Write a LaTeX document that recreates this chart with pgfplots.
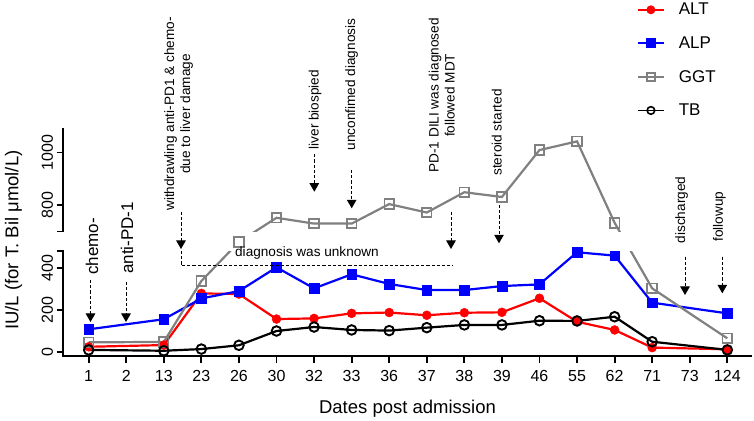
\documentclass[border=0pt]{standalone}
\usepackage{pgfplots}
\usepackage{pgfplotstable}
\pgfplotsset{compat=1.18}
\usepackage{fontspec}
\setmainfont{Liberation Sans}
\usetikzlibrary{arrows.meta}

\definecolor{altred}{RGB}{255,0,0}
\definecolor{alpblue}{RGB}{0,0,255}
\definecolor{ggtgray}{RGB}{128,128,128}

\pgfplotstableread{
idx ALT ALP GGT TB
0 25 108 46 10
2 33 156 48 6
3 279 255 338 14
4 276 290 584 32
5 157 403 752 100
6 160 303 730 119
7 184 370 730 105
8 188 324 804 102
9 175 295 772 116
10 187 295 849 129
11 189 314 831 129
12 256 322 1009 149
13 144 475 1042 148
14 105 459 733 168
15 21 235 303 49
17 13 184 65 10
}\datatab

\tikzset{
  ann/.style={font=\fontsize{13.6}{16}\selectfont, rotate=90, inner sep=0pt, align=center},
  darr/.style={line width=0.9pt, dash pattern=on 3.2pt off 2pt, -{Triangle[width=9.5pt,length=8.5pt]}},
  dln/.style={line width=0.9pt, dash pattern=on 3.2pt off 2pt},
}

\begin{document}
\begin{tikzpicture}[x=1pt,y=1pt]
\path[use as bounding box] (0,0) rectangle (754,420);
\begin{axis}[
  at={(63pt,64pt)}, anchor=south west,
  scale only axis, width=689pt, height=228.3pt,
  xmin=-0.683, xmax=17.657,
  ymin=-19, ymax=1093.9,
  y coord trafo/.code={\pgfmathparse{#1<480 ? #1 : (#1>700 ? 573.8+(#1-700)*1.2548 : 480+(#1-480)*0.42636)}},
  y coord inv trafo/.code={\pgfmathparse{#1<480 ? #1 : (#1>573.8 ? 700+(#1-573.8)/1.2548 : 480+(#1-480)/0.42636)}},
  axis x line*=bottom, axis y line*=left,
  axis line style={line width=1.8pt},
  y axis line style={draw=none},
  tick align=outside, major tick length=6.5pt,
  tick style={line width=1.8pt, black},
  minor tick num=0,
  xtick={0,...,17},
  xticklabels={1,2,13,23,26,30,32,33,36,37,38,39,46,55,62,71,73,124},
  ytick={0,200,400,800,1000},
  yticklabels={0,200,400,800,1000},
  /pgf/number format/assume math mode=true,
  xticklabel style={font=\fontsize{16}{19}\selectfont, yshift=-4pt},
  yticklabel style={font=\fontsize{16}{19}\selectfont, rotate=90, anchor=south},
  xlabel={Dates post admission},
  xlabel style={at={(axis description cs:0.5,-0.251)}, anchor=base, font=\fontsize{18.5}{22}\selectfont},
  ylabel={IU/L (for T. Bil μmol/L)},
  ylabel style={at={(axis description cs:-0.0646,0.508)}, anchor=base, font=\fontsize{18.5}{22}\selectfont},
  clip=false,
  legend image code/.code={\draw[mark repeat=2,mark phase=2,#1] plot coordinates {(0pt,0pt)(13pt,0pt)(26pt,0pt)};},
  legend style={at={(axis description cs:0.8331,1.5453)}, anchor=north west, draw=none, fill=none,
    inner sep=0pt, outer sep=0pt, row sep=20.3pt, /tikz/column sep=14pt,
    font=\fontsize{17}{20}\selectfont, nodes={inner sep=0pt, anchor=west}},
  legend cell align=left,
]
% lines
\addplot[altred, line width=2.2pt, forget plot] table[x=idx, y=ALT] {\datatab};
\addplot[alpblue, line width=2.2pt, forget plot] table[x=idx, y=ALP] {\datatab};
\addplot[ggtgray, line width=2.2pt, forget plot] table[x=idx, y=GGT] {\datatab};
\addplot[black, line width=2.2pt, forget plot] table[x=idx, y=TB] {\datatab};
% axis break band
\fill[white] (rel axis cs:0,0.459) rectangle (rel axis cs:1,0.5453);
% marks
\addplot[only marks, mark=*, mark size=4.5pt, altred, forget plot] table[x=idx, y=ALT] {\datatab};
\addplot[only marks, mark=square*, mark size=4.9pt, alpblue, forget plot] table[x=idx, y=ALP] {\datatab};
\addplot[only marks, mark=square, mark size=4.8pt, ggtgray, line width=1.8pt, forget plot] table[x=idx, y=GGT] {\datatab};
\addplot[only marks, mark=o, mark size=4.8pt, black, line width=1.9pt, forget plot] table[x=idx, y=TB] {\datatab};
% legend
\addlegendimage{altred, line width=1.8pt, mark=*, mark size=3.5pt}
\addlegendentry{ALT}
\addlegendimage{alpblue, line width=1.8pt, mark=square*, mark size=4pt}
\addlegendentry{ALP}
\addlegendimage{ggtgray, line width=1.8pt, mark=square, mark size=4pt, mark options={line width=1.5pt}}
\addlegendentry{GGT}
\addlegendimage{black, line width=1.8pt, mark=o, mark size=3.8pt, mark options={line width=1.6pt}}
\addlegendentry{TB}
\end{axis}
% broken y axis
\draw[line width=1.8pt] (57,168.8) -- (63,168.8) -- (63,63.1);
\draw[line width=1.8pt] (57,188.5) -- (63,188.5) -- (63,292.3);
% annotations
\node[ann, font=\fontsize{17}{20}\selectfont] at (92,173.4) {chemo-};
\draw[darr] (90.5,140) -- (90.5,98);
\node[ann, font=\fontsize{17}{20}\selectfont] at (127,182) {anti-PD-1};
\draw[darr] (126,138) -- (126,98);
\node[ann] at (178.7,306) {withdrawling anti-PD1 \& chemo-\\due to liver damage};
\draw[darr] (181,208) -- (181,171);
\draw[dln] (181,169) -- (181,154.3) -- (453,154.3);
\node[font=\fontsize{13.6}{16}\selectfont, inner sep=0pt] at (307,167) {diagnosis was unknown};
\node[ann] at (315,310.3) {liver biospied};
\draw[darr] (314.3,265.7) -- (314.3,228.3);
\node[ann] at (351.7,335.5) {unconfimed diagnosis};
\draw[darr] (351.7,250) -- (351.7,211.7);
\node[ann] at (441.7,324.6) {PD-1 DILI was diagnosed\\followed MDT};
\draw[darr] (451,208) -- (451,171);
\node[ann] at (496.7,287.5) {steroid started};
\draw[darr] (499,215) -- (499,176.7);
\node[ann] at (681.7,210) {discharged};
\draw[darr] (685,163.3) -- (685,125);
\node[ann] at (719.3,203.5) {followup};
\draw[darr] (722.3,163.3) -- (722.3,126.7);
\end{tikzpicture}
\end{document}
